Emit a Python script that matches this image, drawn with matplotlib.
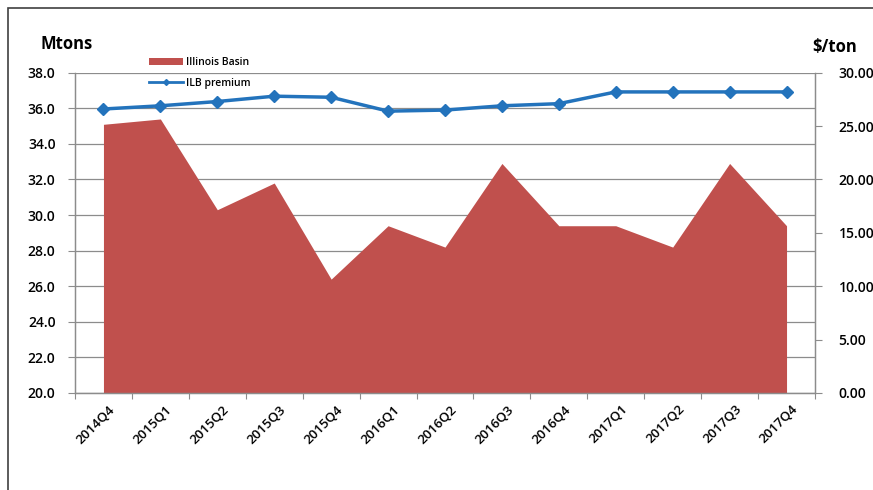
import matplotlib
matplotlib.use("Agg")
import matplotlib.pyplot as plt
from matplotlib.patches import Rectangle
import matplotlib.transforms as mtransforms
import numpy as np

categories = ["2014Q4", "2015Q1", "2015Q2", "2015Q3", "2015Q4", "2016Q1", "2016Q2",
              "2016Q3", "2016Q4", "2017Q1", "2017Q2", "2017Q3", "2017Q4"]
illinois_basin = [35.1, 35.4, 30.3, 31.8, 26.4, 29.4, 28.2, 32.9, 29.4, 29.4, 28.2, 32.9, 29.4]
ilb_premium = [26.6, 26.9, 27.3, 27.8, 27.7, 26.4, 26.5, 26.9, 27.1, 28.2, 28.2, 28.2, 28.2]
left_ticks = [20, 22, 24, 26, 28, 30, 32, 34, 36, 38]
right_ticks = [0, 5, 10, 15, 20, 25, 30]

plt.rcParams['font.family'] = ['Open Sans', 'DejaVu Sans']

fig = plt.figure(figsize=(8.73, 4.9), dpi=100)
fig.patches.append(Rectangle((8/873, -0.1), 1.0, 1 - 8/490 + 0.1, transform=fig.transFigure,
                             fill=False, edgecolor='#404040', linewidth=1.2))

ax = fig.add_axes([75/873, 1 - 393/490, (815 - 75)/873, (393 - 72.7)/490])
x = np.arange(len(categories))

grid_c = '#8c8c8c'
for v in left_ticks:
    ax.axhline(v, color=grid_c, linewidth=0.9, zorder=1)

area = ax.fill_between(x, 20, illinois_basin, color='#C0504D', linewidth=0, zorder=2,
                       label='Illinois Basin')
ax.set_ylim(20, 38)
ax.set_xlim(-0.5, len(categories) - 0.5)
ax.set_yticks(left_ticks)
ax.set_yticklabels([f"{v:.1f}" for v in left_ticks], fontsize=10, fontweight='semibold')

ax.set_xticks(np.arange(-0.5, len(categories), 1.0))
ax.set_xticklabels([])
ax.set_xticks(x, minor=True)
ax.set_xticklabels(categories, minor=True, rotation=45, ha='right', va='top',
                   fontsize=9.5, fontweight='semibold', rotation_mode='anchor')
ax.tick_params(axis='x', which='minor', length=0, pad=7)
ax.tick_params(axis='x', which='major', length=4, color=grid_c, direction='out')
ax.tick_params(axis='y', length=5, color=grid_c, direction='out', pad=9)
offset = mtransforms.ScaledTranslation(5/100, 0, fig.dpi_scale_trans)
for lbl in ax.get_xticklabels(minor=True):
    lbl.set_transform(lbl.get_transform() + offset)

ax.spines['top'].set_visible(False)
for s in ['left', 'bottom', 'right']:
    ax.spines[s].set_color(grid_c)
    ax.spines[s].set_linewidth(0.9)

ax2 = ax.twinx()
line, = ax2.plot(x, ilb_premium, color='#2373BC', linewidth=2.5, marker='D',
                 markersize=6, label='ILB premium', zorder=5)
ax2.set_ylim(0, 30)
ax2.set_yticks(right_ticks)
ax2.set_yticklabels([f"{v:.2f}" for v in right_ticks], fontsize=10, fontweight='semibold')
ax2.tick_params(axis='y', length=5, color=grid_c, direction='out', pad=12)
ax2.spines['top'].set_visible(False)
for s in ['left', 'bottom', 'right']:
    ax2.spines[s].set_color(grid_c)
    ax2.spines[s].set_linewidth(0.9)

fig.text(40/873, 1 - 44/490, "Mtons", fontsize=12, fontweight='bold', va='center', ha='left')
fig.text(812/873, 1 - 47/490, "$/ton", fontsize=12, fontweight='bold', va='center', ha='left')

leg = fig.legend(handles=[area, line], labels=['Illinois Basin', 'ILB premium'],
                 loc='upper left', bbox_to_anchor=(140/873, 1 - 48/490), frameon=False,
                 handlelength=3.2, handletextpad=0.3, labelspacing=0.9,
                 prop={'weight': 'semibold', 'size': 7.5})
leg.legend_handles[1].set_markersize(3)
leg.legend_handles[1].set_linewidth(2)

fig.savefig("out.png", dpi=100)
